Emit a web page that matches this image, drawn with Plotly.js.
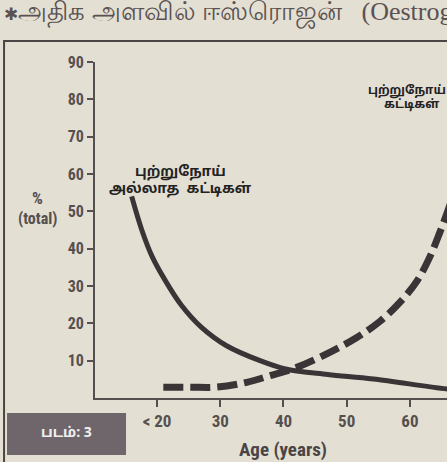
<!DOCTYPE html>
<html>
<head>
<meta charset="utf-8">
<script src="https://cdn.plot.ly/plotly-3.0.1.min.js"></script>
<style>
html,body{margin:0;padding:0;background:#e4dfd3;overflow:hidden;width:447px;height:462px;}
#chart{width:520px;height:462px;}
</style>
</head>
<body>
<div id="chart"></div>
<script>
// Data
const ageNonCancer = [16, 17.6, 19.2, 21.3, 23.8, 27, 31, 36.3, 40.5, 47, 54.2, 65.9, 72];
const nonCancerous = [54, 45, 38, 31.5, 25, 19, 14, 10.0, 7.7, 6.3, 5.1, 2.4, 1.5];
const ageCancer = [21, 25, 29.4, 34.2, 37.9, 42.1, 47.4, 51.6, 55.3, 58.4, 61.1, 63.2, 64.8, 65.9, 68];
const cancerous = [2.9, 2.9, 2.9, 4.2, 6.0, 8.2, 12.3, 16.2, 20.6, 25.6, 31.3, 38.0, 44.7, 49.7, 60];
const xTickVals = [20, 30, 40, 50, 60];
const xTickText = ['< 20', '30', '40', '50', '60'];
const yTickVals = [10, 20, 30, 40, 50, 60, 70, 80, 90];

const narrow = 'Liberation Sans Narrow, Arial Narrow, Roboto Condensed, sans-serif';
const ink = '#3b3436';
const axisGray = '#555050';

const traces = [
  {x: ageNonCancer, y: nonCancerous, type: 'scatter', mode: 'lines',
   line: {color: ink, width: 5, shape: 'spline', smoothing: 1}, hoverinfo: 'skip'},
  {x: ageCancer, y: cancerous, type: 'scatter', mode: 'lines',
   line: {color: ink, width: 7, dash: '20px,7px', shape: 'spline', smoothing: 1}, hoverinfo: 'skip'}
];

const tamil = 'Noto Sans Tamil, Noto Sans, sans-serif';
const layout = {
  width: 520, height: 462,
  margin: {l: 95, r: 0, t: 62, b: 64},
  paper_bgcolor: '#e4dfd3', plot_bgcolor: '#e4dfd3',
  showlegend: false,
  xaxis: {
    range: [10.2, 77.4], showgrid: false, zeroline: false,
    showline: true, linecolor: axisGray, linewidth: 2,
    ticks: 'outside', ticklen: 7, tickwidth: 2, tickcolor: axisGray,
    tickvals: xTickVals, ticktext: xTickText,
    tickfont: {family: narrow, size: 17, color: axisGray, weight: 'bold'}
  },
  yaxis: {
    range: [0, 90], showgrid: false, zeroline: false,
    showline: true, linecolor: axisGray, linewidth: 2,
    ticks: 'outside', ticklen: 6, tickwidth: 2, tickcolor: axisGray,
    tickvals: yTickVals,
    tickfont: {family: narrow, size: 16, color: axisGray, weight: 'bold'}
  },
  shapes: [
    {type: 'rect', xref: 'paper', yref: 'paper', x0: -0.214, x1: 2, y0: -1, y1: 1.0625,
     line: {color: '#4a4445', width: 2}, fillcolor: 'rgba(0,0,0,0)', layer: 'below'},
    {type: 'rect', xref: 'paper', yref: 'paper', x0: -0.207, x1: 0.073, y0: -0.170, y1: -0.0446,
     line: {width: 0}, fillcolor: '#6e666a', layer: 'above'}
  ],
  annotations: [
    {text: '<span style="font-size:17px">✱</span>அதிக அளவில் ஈஸ்ரொஜன்\u00a0\u00a0\u00a0(Oestrogen)', xref: 'paper', yref: 'paper',
     x: -0.219, y: 1.146, xanchor: 'left', yanchor: 'middle', showarrow: false,
     font: {family: 'Liberation Serif, Noto Sans, serif', size: 26, color: '#5a5252'}},
    {text: '%', xref: 'paper', yref: 'paper', x: -0.136, y: 0.595,
     xanchor: 'center', yanchor: 'middle', showarrow: false,
     font: {family: narrow, size: 17, color: axisGray, weight: 'bold'}},
    {text: '(total)', xref: 'paper', yref: 'paper', x: -0.136, y: 0.535,
     xanchor: 'center', yanchor: 'middle', showarrow: false,
     font: {family: narrow, size: 16, color: axisGray, weight: 'bold'}},
    {text: 'Age (years)', xref: 'x', yref: 'paper', x: 40, y: -0.152,
     xanchor: 'center', yanchor: 'middle', showarrow: false,
     font: {family: narrow, size: 19, color: '#4a4445', weight: 'bold'}},
    {text: 'புற்றுநோய்', xref: 'paper', yref: 'paper', x: 0.2, y: 0.673,
     xanchor: 'center', yanchor: 'middle', showarrow: false,
     font: {family: tamil, size: 14, color: '#222', weight: 'bold'}},
    {text: 'அல்லாத  கட்டிகள்', xref: 'paper', yref: 'paper', x: 0.202, y: 0.622,
     xanchor: 'center', yanchor: 'middle', showarrow: false,
     font: {family: tamil, size: 14, color: '#222', weight: 'bold'}},
    {text: 'புற்றுநோய்', xref: 'paper', yref: 'paper', x: 0.734, y: 0.913,
     xanchor: 'center', yanchor: 'middle', showarrow: false,
     font: {family: tamil, size: 12, color: '#222', weight: 'bold'}},
    {text: 'கட்டிகள்', xref: 'paper', yref: 'paper', x: 0.744, y: 0.872,
     xanchor: 'center', yanchor: 'middle', showarrow: false,
     font: {family: tamil, size: 12, color: '#222', weight: 'bold'}},
    {text: 'படம்: 3', xref: 'paper', yref: 'paper', x: -0.067, y: -0.107,
     xanchor: 'center', yanchor: 'middle', showarrow: false,
     font: {family: tamil, size: 14, color: '#f2eef0', weight: 'bold'}}
  ]
};

Plotly.newPlot('chart', traces, layout, {displayModeBar: false, staticPlot: true});
</script>
</body>
</html>
